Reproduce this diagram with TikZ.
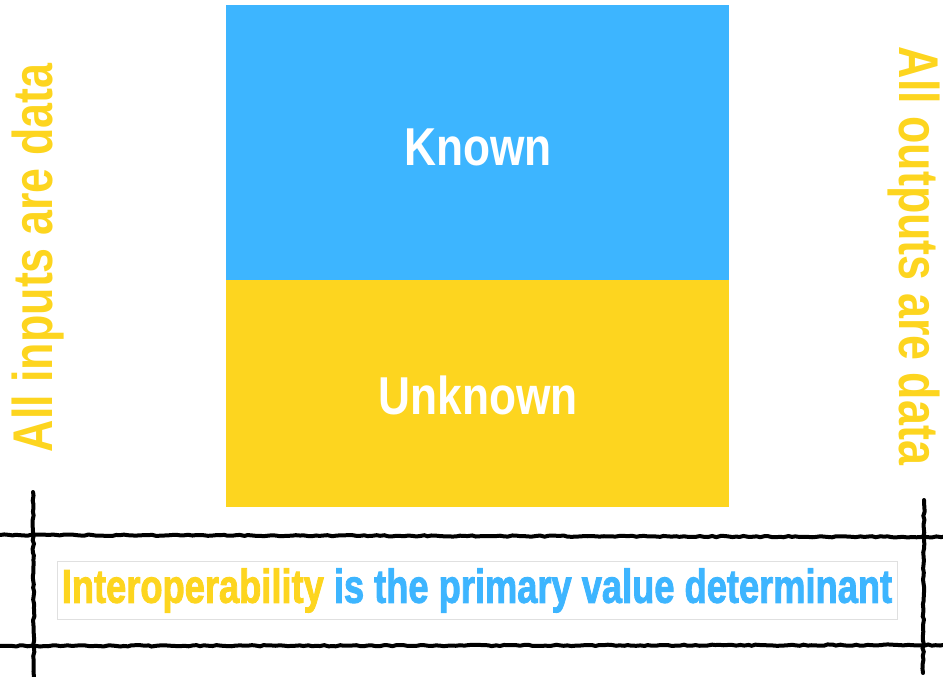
\documentclass[tikz,border=0pt]{standalone}
\usepackage{fontspec}
\setmainfont{Liberation Sans}
\newfontfamily\heavysans[FakeBold=2.2]{Liberation Sans Bold}
\usetikzlibrary{decorations.pathmorphing}
\definecolor{knownblue}{HTML}{3DB5FF}
\definecolor{dataamber}{HTML}{FDD51F}
\newcommand{\narrow}[2][0.82]{\scalebox{#1}[1]{#2}}

\begin{document}
\begin{tikzpicture}[
    x=0.75pt, y=-0.75pt,
    boxlabel/.style={text=white, font=\fontsize{40}{40}\selectfont\bfseries, inner sep=0pt},
    sidelabel/.style={text=dataamber, font=\fontsize{42}{42}\selectfont\bfseries, inner sep=0pt},
    brush/.style={line width=3pt, line cap=round, decorate,
      decoration={random steps, segment length=3pt, amplitude=0.5pt}},
    banner/.style={draw=black!12, line width=0.6pt, minimum width=630pt,
      minimum height=44pt, inner sep=0pt, text=knownblue,
      font=\fontsize{33.5}{33.5}\selectfont\heavysans}
  ]
  \useasboundingbox (0,0) rectangle (943,677);
  % known / unknown halves
  \fill[knownblue] (226,5) rectangle (729,280);
  \fill[dataamber] (226,280) rectangle (729,507);
  \node (known) [boxlabel] at (478,147) {\narrow[0.83]{Known}};
  \node (unknown) [boxlabel] at (478,395) {\narrow[0.83]{Unknown}};
  % side labels
  \node (inputs) [sidelabel, rotate=90] at (38,258) {\narrow[0.8]{All inputs are data}};
  \node (outputs) [sidelabel, rotate=-90] at (914,256) {\narrow[0.8]{All outputs are data}};
  % sketched frame
  \draw[brush] (0,535) -- (943,537);
  \draw[brush] (0,646) -- (943,645);
  \draw[brush] (33,492) -- (34,677);
  \draw[brush] (924,500) -- (923,673);
  \node (claim) [banner] at (477,590.5)
    {\scalebox{0.812}[1.06]{{\color{dataamber}Interoperability} is the primary value determinant}};
\end{tikzpicture}
\end{document}
